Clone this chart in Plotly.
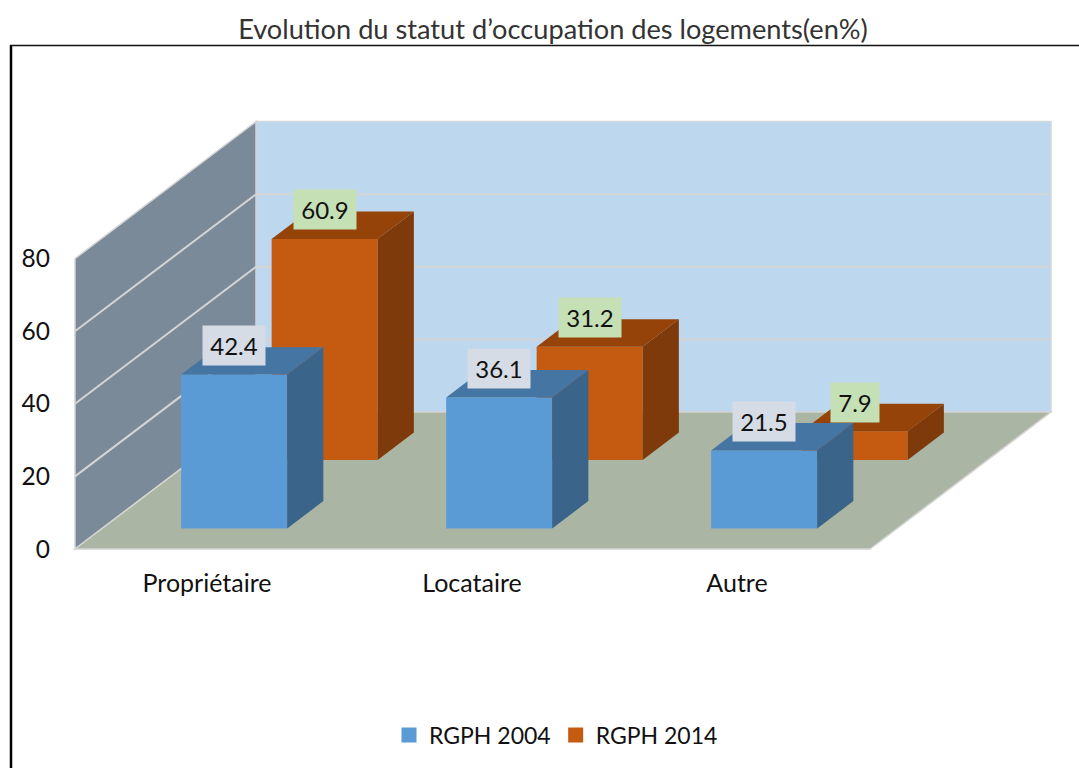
import plotly.graph_objects as go

categories = ["Propriétaire", "Locataire", "Autre"]
series_2004 = [42.4, 36.1, 21.5]
series_2014 = [60.9, 31.2, 7.9]
y_ticks = [0, 20, 40, 60, 80]
title_text = "Evolution du statut d’occupation des logements(en%)"

W, H = 1079, 768
PX_X, PX_Y = 265.0, 3.63      # pixels per category, pixels per percent
X0_PX, Y0_PX = 207.0, 549.0   # pixel of category 0 and of value 0
DX = 181.0 / PX_X             # shift of full depth, in x units
DY = 137.0 / PX_Y             # shift of full depth, in y units
BAR_W, BAR_D = 0.4, 0.2
FONT = "Lato"
TXT = "#111111"


def proj(x, depth, v):
    return x + DX * depth, v + DY * depth


def face(points):
    xs, ys = zip(*[proj(*p) for p in points + points[:1]])
    return list(xs), list(ys)


def path(points):
    pts = [proj(*p) for p in points]
    return "M" + " L".join(f"{a},{b}" for a, b in pts) + " Z"


xl = (75 - X0_PX) / PX_X
xr = (870 - X0_PX) / PX_X
top = y_ticks[-1]
EDGE = "#D4D4D4"

shapes = [
    dict(type="path", xref="x", yref="y", layer="below", fillcolor="#BDD7EE", line=dict(color="#D0D8DE", width=1.5),
         path=path([(xl, 1, 0), (xr, 1, 0), (xr, 1, top), (xl, 1, top)])),
    dict(type="path", xref="x", yref="y", layer="below", fillcolor="#7B8A99", line=dict(color=EDGE, width=1.5),
         path=path([(xl, 0, 0), (xl, 1, 0), (xl, 1, top), (xl, 0, top)])),
    dict(type="path", xref="x", yref="y", layer="below", fillcolor="#AAB5A3", line=dict(color=EDGE, width=1.5),
         path=path([(xl, 0, 0), (xr, 0, 0), (xr, 1, 0), (xl, 1, 0)])),
]
for t in y_ticks[1:-1]:
    for a, b in (((xl, 0, t), (xl, 1, t)), ((xl, 1, t), (xr, 1, t))):
        (x0, y0), (x1, y1) = proj(*a), proj(*b)
        shapes.append(dict(type="line", xref="x", yref="y", layer="below",
                           x0=x0, y0=y0, x1=x1, y1=y1, line=dict(color=EDGE, width=2)))

# chart frame (top and left rule)
shapes += [
    dict(type="line", xref="paper", yref="paper", x0=11 / W, x1=11 / W, y0=0, y1=1 - 45 / H,
         line=dict(color="#000000", width=2.5)),
    dict(type="line", xref="paper", yref="paper", x0=10 / W, x1=1, y0=1 - 45.5 / H, y1=1 - 45.5 / H,
         line=dict(color="#111111", width=1.5)),
]

fig = go.Figure()
specs = [
    ("RGPH 2014", series_2014, 0.65, "#C55A11", "#7E3A0B", "#964309", "#C5E0B4", 2),
    ("RGPH 2004", series_2004, 0.15, "#5B9BD5", "#3A648A", "#4576A3", "#D6DCE5", 1),
]
annotations = []
for name, vals, depth, front, side, topc, lab, rank in specs:
    fx, fy = proj(0, depth, 0)
    fig.add_trace(go.Bar(x=[i + fx for i in range(len(vals))], y=vals, base=fy, width=BAR_W,
                         name=name, marker=dict(color=front, line=dict(width=0)),
                         showlegend=False, hoverinfo="skip"))
for name, vals, depth, front, side, topc, lab, rank in specs:
    sx, sy, tx, ty = [], [], [], []
    for i, v in enumerate(vals):
        l, r = i - BAR_W / 2, i + BAR_W / 2
        a, b = face([(r, depth, 0), (r, depth + BAR_D, 0), (r, depth + BAR_D, v), (r, depth, v)])
        sx += a + [None]; sy += b + [None]
        a, b = face([(l, depth, v), (r, depth, v), (r, depth + BAR_D, v), (l, depth + BAR_D, v)])
        tx += a + [None]; ty += b + [None]
        cx, cy = proj(i, depth, v)
        annotations.append(dict(x=cx, y=cy, xref="x", yref="y", text=f"{v:.1f}", showarrow=False,
                                yshift=29, xanchor="center", yanchor="middle",
                                width=60 if v >= 10 else 46, height=37, bgcolor=lab,
                                font=dict(family=FONT, size=24, color=TXT)))
    for xs, ys, col in ((sx, sy, side), (tx, ty, topc)):
        fig.add_trace(go.Scatter(x=xs, y=ys, mode="lines", fill="toself", fillcolor=col,
                                 line=dict(width=0, color=col), showlegend=False, hoverinfo="skip"))
    # legend key at the reference's square size
    fig.add_trace(go.Scatter(x=[None], y=[None], mode="markers", name=name, legendrank=rank,
                             marker=dict(symbol="square", size=15, color=front), hoverinfo="skip"))

fig.update_layout(
    width=W, height=H, margin=dict(l=0, r=0, t=0, b=0), autosize=False,
    paper_bgcolor="white", plot_bgcolor="white", barmode="overlay",
    shapes=shapes, annotations=annotations,
    font=dict(family=FONT, size=24, color=TXT),
    title=dict(text=title_text, x=553 / W, y=1 - 29 / H, xanchor="center", yanchor="middle",
               font=dict(family=FONT, size=27.2, color="#333333")),
    legend=dict(orientation="h", x=556 / W, y=1 - 735 / H, xanchor="center", yanchor="middle",
                font=dict(family=FONT, size=23, color=TXT), bgcolor="rgba(0,0,0,0)"),
    xaxis=dict(range=[-X0_PX / PX_X, (W - X0_PX) / PX_X], tickmode="array",
               tickvals=list(range(len(categories))), ticktext=categories,
               tickfont=dict(family=FONT, size=25, color=TXT),
               showgrid=False, zeroline=False, showline=False, ticks="",
               anchor="free", position=(H - 566) / H, fixedrange=True),
    yaxis=dict(range=[-(H - Y0_PX) / PX_Y, Y0_PX / PX_Y], tickmode="array",
               tickvals=y_ticks, tickfont=dict(family=FONT, size=24.5, color=TXT),
               showgrid=False, zeroline=False, showline=False, ticks="",
               anchor="free", position=50 / W, fixedrange=True),
)
fig.write_html("out.html", post_script="document.body.style.margin='0';", config=dict(displayModeBar=False))
